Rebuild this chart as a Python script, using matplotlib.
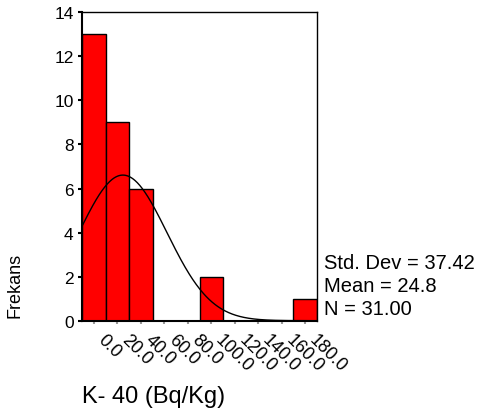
import numpy as np
import matplotlib
matplotlib.use("Agg")
import matplotlib.pyplot as plt
from matplotlib.transforms import ScaledTranslation

# histogram data (bin centres, counts)
bin_centers = [0, 20, 40, 60, 80, 100, 120, 140, 160, 180]
counts = [13, 9, 6, 0, 0, 2, 0, 0, 0, 1]
tick_labels = ["0.0", "20.0", "40.0", "60.0", "80.0", "100.0", "120.0", "140.0", "160.0", "180.0"]
y_ticks = [0, 2, 4, 6, 8, 10, 12, 14]

# summary stats shown on the right
std_dev = 37.42
mean = 24.8
n_obs = 31.00
bin_width = 20

plt.rcParams["font.family"] = ["Liberation Sans", "DejaVu Sans"]

fig = plt.figure(figsize=(4.92, 4.10), dpi=100, facecolor="white")
ax = fig.add_axes([0.1667, 0.2154, 0.4776, 0.7522])

ax.bar(bin_centers, counts, width=bin_width, color="#ff0000",
       edgecolor="black", linewidth=1.0, zorder=2)

# normal curve
xs = np.linspace(-10, 190, 400)
ys = n_obs * bin_width / (std_dev * np.sqrt(2 * np.pi)) * np.exp(-0.5 * ((xs - mean) / std_dev) ** 2)
ax.plot(xs, ys, color="black", linewidth=1.0, zorder=3)

ax.set_xlim(-10, 190)
ax.set_ylim(0, 14)
ax.set_yticks(y_ticks)
ax.set_yticklabels([str(v) for v in y_ticks], fontsize=12.5)
ax.set_xticks(bin_centers)
ax.set_xticklabels([])

# rotated x labels, placed a bit right of / below their ticks
offs = ax.get_xaxis_transform() + ScaledTranslation(13 / 100, -10 / 100, fig.dpi_scale_trans)
for v, lab in zip(bin_centers, tick_labels):
    ax.text(v, 0, lab, transform=offs, fontsize=13, rotation=-45,
            ha="left", va="top", rotation_mode="anchor", clip_on=False)

ax.tick_params(axis="y", direction="out", length=3, width=1.5, color="black", pad=3)
ax.tick_params(axis="x", direction="out", length=2, width=1.5, color="#999999")

for sp in ax.spines.values():
    sp.set_linewidth(1.0)
    sp.set_color("black")
ax.spines["left"].set_linewidth(1.5)
ax.spines["bottom"].set_linewidth(1.5)

fig.text(0.031, 0.305, "Frekans", rotation=90, fontsize=13, ha="center", va="center")
fig.text(0.166, 0.032, "K- 40 (Bq/Kg)", fontsize=17, ha="left", va="center")

fig.text(0.658, 0.358, f"Std. Dev = {std_dev:.2f}", fontsize=14.5, ha="left", va="center")
fig.text(0.658, 0.300, f"Mean = {mean:.1f}", fontsize=14.5, ha="left", va="center")
fig.text(0.658, 0.244, f"N = {n_obs:.2f}", fontsize=14.5, ha="left", va="center")

fig.savefig("out.png", dpi=100, facecolor="white")
